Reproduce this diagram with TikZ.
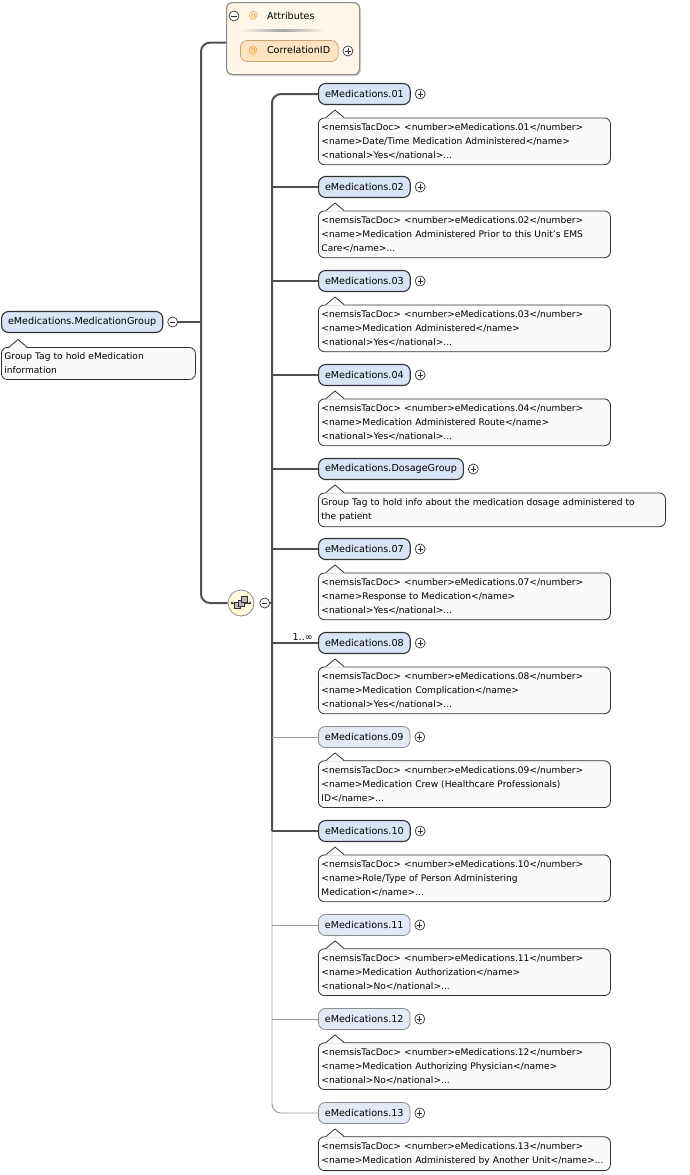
\documentclass[tikz,border=0pt]{standalone}
\usepackage{fontspec}
\setmainfont{DejaVu Sans}
\usetikzlibrary{positioning, calc, shadows}
\definecolor{Dark}{HTML}{333333}
\definecolor{Trunk}{HTML}{505050}
\definecolor{ThinGray}{HTML}{9A9A9A}
\definecolor{ElemFill}{HTML}{D9E5F7}
\definecolor{OptFill}{HTML}{E2EAF7}
\definecolor{OptLine}{HTML}{8C8C8C}
\definecolor{DescFill}{HTML}{FAFAFA}
\definecolor{AttrFill}{HTML}{FFF8EA}
\definecolor{AttrLine}{HTML}{8F8F8F}
\definecolor{CorrFill}{HTML}{FCE3C2}
\definecolor{CorrLine}{HTML}{C9A36E}
\definecolor{AtOrange}{HTML}{EE9A2A}
\definecolor{SeqFill}{HTML}{FFFBDD}
\newcommand{\labelfont}{\fontsize{9.6}{11}\selectfont}
\newcommand{\descfont}{\fontsize{9.1}{14}\selectfont}
\tikzset{
    elemnode/.style={rectangle, rounded corners=7pt, draw=Dark, line width=1.1pt, fill=ElemFill, minimum height=21pt, inner xsep=6.5pt, font=\labelfont},
    optnode/.style={elemnode, draw=OptLine, line width=0.8pt, fill=OptFill},
    descnode/.style={rectangle, rounded corners=6pt, draw=Dark, line width=0.8pt, fill=DescFill, text width=286pt, align=left, inner xsep=3pt, inner ysep=5.5pt, font=\descfont},
    corrnode/.style={rectangle, rounded corners=7pt, draw=CorrLine, line width=0.8pt, fill=CorrFill, minimum height=21pt, inner xsep=8pt, font=\labelfont},
    btn/.style={circle, draw=Dark, line width=0.7pt, fill=white, minimum size=10pt, inner sep=0pt},
    minusbtn/.style={btn, path picture={\draw[line width=0.7pt] ([xshift=-2.6pt]path picture bounding box.center) -- ([xshift=2.6pt]path picture bounding box.center);}},
    plusbtn/.style={btn, path picture={\draw[line width=0.7pt] ([xshift=-2.6pt]path picture bounding box.center) -- ([xshift=2.6pt]path picture bounding box.center) ([yshift=-2.6pt]path picture bounding box.center) -- ([yshift=2.6pt]path picture bounding box.center);}},
    trunk/.style={draw=Trunk, line width=2pt},
    thinline/.style={draw=ThinGray, line width=0.9pt},
}
% little pointer on top of a description box
\newcommand{\descnotch}[1]{%
    \fill[DescFill] ([xshift=8pt,yshift=-1pt]#1.north west) -- ([xshift=17pt,yshift=7.5pt]#1.north west) -- ([xshift=26pt,yshift=-1pt]#1.north west) -- cycle;
    \draw[Dark, line width=0.8pt] ([xshift=8pt]#1.north west) -- ([xshift=17pt,yshift=7.5pt]#1.north west) -- ([xshift=26pt]#1.north west);}

\begin{document}
\begin{tikzpicture}[x=1pt, y=-1pt]
    \useasboundingbox (0,0) rectangle (689,1175);

    % Root element
    \node[elemnode, anchor=west] (root) at (1,322) {eMedications.MedicationGroup};
    \node[minusbtn, right=4pt of root] (rootminus) {};
    \node[descnode, text width=188pt, below=14pt of root.south west, anchor=north west] (rootdesc) {Group Tag to hold eMedication\\information};
    \descnotch{rootdesc}
    \coordinate (j1) at (201,322);

    % Attributes box
    \node[rectangle, draw=AttrLine, line width=1.2pt, fill=AttrFill, rounded corners=6pt, minimum width=133pt, minimum height=72pt, anchor=north west, drop shadow={shadow xshift=1.5pt, shadow yshift=-1.5pt, opacity=0.35}] (attrs) at (226,2) {};
    \node[minusbtn] (attrminus) at (234,16) {};
    \node[font=\labelfont, text=AtOrange, anchor=west, inner sep=0pt] (attrat) at (248.5,16) {@};
    \node[font=\labelfont, anchor=west, inner sep=0pt] (attrlabel) at (267,16) {Attributes};
    \shade[left color=AttrFill, right color=AttrFill, middle color=gray!70] (240,29) rectangle (326,31);
    \node[corrnode, anchor=west] (corr) at (240,51) {\textcolor{AtOrange}{@}\hspace{9pt}CorrelationID};
    \node[plusbtn, right=4pt of corr] (corrplus) {};

    % Sequence compositor
    \node[circle, draw=OptLine, line width=0.8pt, fill=SeqFill, minimum size=26pt, inner sep=0pt] (seq) at (241,603) {};
    \draw[Dark, line width=0.8pt] ([xshift=-9pt]seq.center) -- ([xshift=9pt]seq.center);
    \fill[Dark] ([xshift=-9pt]seq.center) circle (1.3pt) ([xshift=9pt]seq.center) circle (1.3pt);
    \filldraw[fill=gray!55, draw=Dark, line width=0.6pt] ([shift={(-6.5,-0.5)}]seq.center) rectangle ++(6,6);
    \filldraw[fill=gray!55, draw=Dark, line width=0.6pt] ([shift={(-3,-3)}]seq.center) rectangle ++(6,6);
    \filldraw[fill=gray!55, draw=Dark, line width=0.6pt] ([shift={(0.5,-6.5)}]seq.center) rectangle ++(6,6);
    \node[minusbtn, right=5pt of seq] (seqminus) {};
    \coordinate (t2) at (272,603);

    % Child elements
    \node[elemnode, anchor=west] (e01) at (318,94) {eMedications.01};
    \node[plusbtn, right=4pt of e01] (p01) {};
    \node[descnode, below=12.5pt of e01.south west, anchor=north west] (d01) {<nemsisTacDoc> <number>eMedications.01</number>\\<name>Date/Time Medication Administered</name>\\<national>Yes</national>...};
    \descnotch{d01}

    \node[elemnode, anchor=west] (e02) at (318,187) {eMedications.02};
    \node[plusbtn, right=4pt of e02] (p02) {};
    \node[descnode, below=12.5pt of e02.south west, anchor=north west] (d02) {<nemsisTacDoc> <number>eMedications.02</number>\\<name>Medication Administered Prior to this Unit's EMS\\Care</name>...};
    \descnotch{d02}

    \node[elemnode, anchor=west] (e03) at (318,281) {eMedications.03};
    \node[plusbtn, right=4pt of e03] (p03) {};
    \node[descnode, below=12.5pt of e03.south west, anchor=north west] (d03) {<nemsisTacDoc> <number>eMedications.03</number>\\<name>Medication Administered</name>\\<national>Yes</national>...};
    \descnotch{d03}

    \node[elemnode, anchor=west] (e04) at (318,375) {eMedications.04};
    \node[plusbtn, right=4pt of e04] (p04) {};
    \node[descnode, below=12.5pt of e04.south west, anchor=north west] (d04) {<nemsisTacDoc> <number>eMedications.04</number>\\<name>Medication Administered Route</name>\\<national>Yes</national>...};
    \descnotch{d04}

    \node[elemnode, anchor=west] (eDos) at (318,469) {eMedications.DosageGroup};
    \node[plusbtn, right=4pt of eDos] (pDos) {};
    \node[descnode, text width=341pt, below=12.5pt of eDos.south west, anchor=north west] (dDos) {Group Tag to hold info about the medication dosage administered to\\the patient};
    \descnotch{dDos}

    \node[elemnode, anchor=west] (e07) at (318,549) {eMedications.07};
    \node[plusbtn, right=4pt of e07] (p07) {};
    \node[descnode, below=12.5pt of e07.south west, anchor=north west] (d07) {<nemsisTacDoc> <number>eMedications.07</number>\\<name>Response to Medication</name>\\<national>Yes</national>...};
    \descnotch{d07}

    \node[elemnode, anchor=west] (e08) at (318,643) {eMedications.08};
    \node[plusbtn, right=4pt of e08] (p08) {};
    \node[font=\labelfont, anchor=south east, inner sep=1pt] (occ08) at ([xshift=-4pt, yshift=1pt]e08.west) {1..∞};
    \node[descnode, below=12.5pt of e08.south west, anchor=north west] (d08) {<nemsisTacDoc> <number>eMedications.08</number>\\<name>Medication Complication</name>\\<national>Yes</national>...};
    \descnotch{d08}

    \node[optnode, anchor=west] (e09) at (318,737) {eMedications.09};
    \node[plusbtn, right=4pt of e09] (p09) {};
    \node[descnode, below=12.5pt of e09.south west, anchor=north west] (d09) {<nemsisTacDoc> <number>eMedications.09</number>\\<name>Medication Crew (Healthcare Professionals)\\ID</name>...};
    \descnotch{d09}

    \node[elemnode, anchor=west] (e10) at (318,831) {eMedications.10};
    \node[plusbtn, right=4pt of e10] (p10) {};
    \node[descnode, below=12.5pt of e10.south west, anchor=north west] (d10) {<nemsisTacDoc> <number>eMedications.10</number>\\<name>Role/Type of Person Administering\\Medication</name>...};
    \descnotch{d10}

    \node[optnode, anchor=west] (e11) at (318,925) {eMedications.11};
    \node[plusbtn, right=4pt of e11] (p11) {};
    \node[descnode, below=12.5pt of e11.south west, anchor=north west] (d11) {<nemsisTacDoc> <number>eMedications.11</number>\\<name>Medication Authorization</name>\\<national>No</national>...};
    \descnotch{d11}

    \node[optnode, anchor=west] (e12) at (318,1019) {eMedications.12};
    \node[plusbtn, right=4pt of e12] (p12) {};
    \node[descnode, below=12.5pt of e12.south west, anchor=north west] (d12) {<nemsisTacDoc> <number>eMedications.12</number>\\<name>Medication Authorizing Physician</name>\\<national>No</national>...};
    \descnotch{d12}

    \node[optnode, anchor=west] (e13) at (318,1113) {eMedications.13};
    \node[plusbtn, right=4pt of e13] (p13) {};
    \node[descnode, below=12.5pt of e13.south west, anchor=north west] (d13) {<nemsisTacDoc> <number>eMedications.13</number>\\<name>Medication Administered by Another Unit</name>...};
    \descnotch{d13}

    % Connectors
    \draw[trunk] (rootminus) -- (j1);
    \draw[trunk, rounded corners=9pt] ([yshift=-4pt]attrs.west) -| (j1) |- (seq);
    \draw[trunk] (seqminus) -- (t2);
    \draw[trunk, rounded corners=9pt] (e01.west) -| (t2 |- e10.west);
    \draw[thinline, rounded corners=9pt] (t2 |- e10.west) |- (e13.west);
    \draw[trunk] (t2 |- e02) -- (e02);
    \draw[trunk] (t2 |- e03) -- (e03);
    \draw[trunk] (t2 |- e04) -- (e04);
    \draw[trunk] (t2 |- eDos) -- (eDos);
    \draw[trunk] (t2 |- e07) -- (e07);
    \draw[trunk] (t2 |- e08) -- (e08);
    \draw[thinline] (t2 |- e09) -- (e09);
    \draw[trunk] (t2 |- e10) -- (e10);
    \draw[thinline] (t2 |- e11) -- (e11);
    \draw[thinline] (t2 |- e12) -- (e12);
\end{tikzpicture}
\end{document}
